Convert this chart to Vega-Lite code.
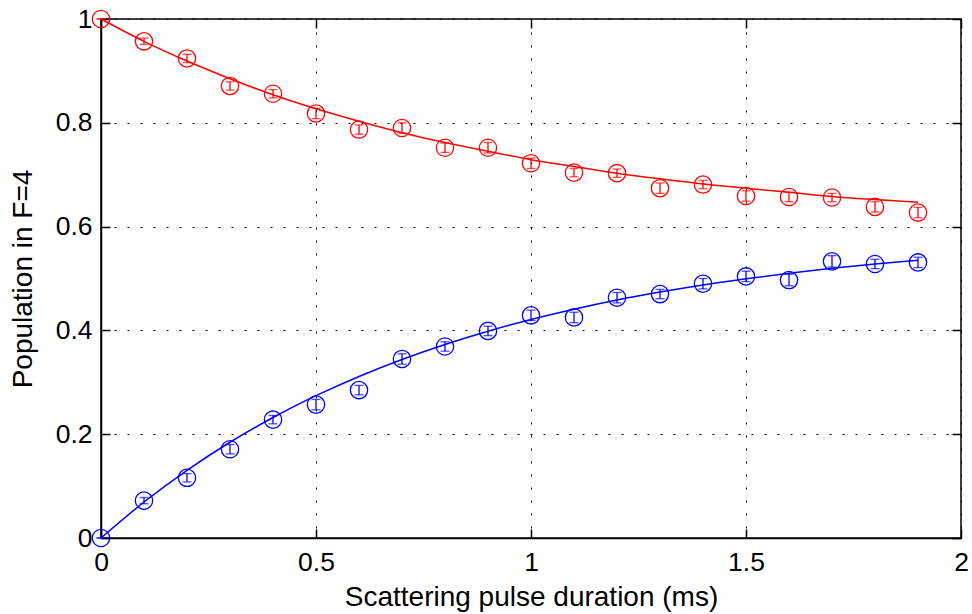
{
  "$schema": "https://vega.github.io/schema/vega-lite/v6.json",
  "width": 860,
  "height": 519,
  "autosize": {"type": "none"},
  "padding": {"left": 101, "top": 19, "right": 11, "bottom": 76},
  "background": "white",
  "config": {
    "font": "Liberation Sans",
    "view": {"stroke": "black", "strokeWidth": 1.5},
    "axis": {
      "domainColor": "black",
      "domainWidth": 1.5,
      "tickColor": "black",
      "tickWidth": 1.5,
      "labelFont": "Liberation Sans",
      "labelFontSize": 26.5,
      "labelColor": "black",
      "labelFlush": false,
      "titleFont": "Liberation Sans",
      "titleFontSize": 28,
      "titleFontWeight": "normal",
      "titleColor": "black",
      "gridColor": "black",
      "gridDash": [2, 11],
      "gridWidth": 1,
      "gridOpacity": 1
    }
  },
  "datasets": {
    "pts": [
      {"t": 0.0, "p": 1.0, "err": 0, "series": "upper"},
      {"t": 0.1, "p": 0.957, "err": 0.006, "series": "upper"},
      {"t": 0.2, "p": 0.924, "err": 0.008, "series": "upper"},
      {"t": 0.3, "p": 0.871, "err": 0.008, "series": "upper"},
      {"t": 0.4, "p": 0.856, "err": 0.008, "series": "upper"},
      {"t": 0.5, "p": 0.818, "err": 0.01, "series": "upper"},
      {"t": 0.6, "p": 0.787, "err": 0.009, "series": "upper"},
      {"t": 0.7, "p": 0.79, "err": 0.01, "series": "upper"},
      {"t": 0.8, "p": 0.752, "err": 0.009, "series": "upper"},
      {"t": 0.9, "p": 0.752, "err": 0.01, "series": "upper"},
      {"t": 1.0, "p": 0.722, "err": 0.01, "series": "upper"},
      {"t": 1.1, "p": 0.704, "err": 0.008, "series": "upper"},
      {"t": 1.2, "p": 0.703, "err": 0.008, "series": "upper"},
      {"t": 1.3, "p": 0.674, "err": 0.01, "series": "upper"},
      {"t": 1.4, "p": 0.681, "err": 0.008, "series": "upper"},
      {"t": 1.5, "p": 0.659, "err": 0.01, "series": "upper"},
      {"t": 1.6, "p": 0.657, "err": 0.009, "series": "upper"},
      {"t": 1.7, "p": 0.656, "err": 0.008, "series": "upper"},
      {"t": 1.8, "p": 0.638, "err": 0.01, "series": "upper"},
      {"t": 1.9, "p": 0.627, "err": 0.01, "series": "upper"},
      {"t": 0.0, "p": 0.0, "err": 0, "series": "lower"},
      {"t": 0.1, "p": 0.072, "err": 0.006, "series": "lower"},
      {"t": 0.2, "p": 0.116, "err": 0.008, "series": "lower"},
      {"t": 0.3, "p": 0.171, "err": 0.009, "series": "lower"},
      {"t": 0.4, "p": 0.228, "err": 0.008, "series": "lower"},
      {"t": 0.5, "p": 0.257, "err": 0.01, "series": "lower"},
      {"t": 0.6, "p": 0.285, "err": 0.009, "series": "lower"},
      {"t": 0.7, "p": 0.345, "err": 0.01, "series": "lower"},
      {"t": 0.8, "p": 0.369, "err": 0.009, "series": "lower"},
      {"t": 0.9, "p": 0.399, "err": 0.009, "series": "lower"},
      {"t": 1.0, "p": 0.429, "err": 0.01, "series": "lower"},
      {"t": 1.1, "p": 0.425, "err": 0.01, "series": "lower"},
      {"t": 1.2, "p": 0.463, "err": 0.01, "series": "lower"},
      {"t": 1.3, "p": 0.47, "err": 0.009, "series": "lower"},
      {"t": 1.4, "p": 0.49, "err": 0.01, "series": "lower"},
      {"t": 1.5, "p": 0.504, "err": 0.01, "series": "lower"},
      {"t": 1.6, "p": 0.497, "err": 0.011, "series": "lower"},
      {"t": 1.7, "p": 0.533, "err": 0.011, "series": "lower"},
      {"t": 1.8, "p": 0.528, "err": 0.009, "series": "lower"},
      {"t": 1.9, "p": 0.531, "err": 0.01, "series": "lower"}
    ],
    "fit": [
      {"t": 0.0, "p": 1.0, "series": "upper"},
      {"t": 0.1, "p": 0.957, "series": "upper"},
      {"t": 0.2, "p": 0.919, "series": "upper"},
      {"t": 0.3, "p": 0.885, "series": "upper"},
      {"t": 0.4, "p": 0.854, "series": "upper"},
      {"t": 0.5, "p": 0.827, "series": "upper"},
      {"t": 0.6, "p": 0.803, "series": "upper"},
      {"t": 0.7, "p": 0.781, "series": "upper"},
      {"t": 0.8, "p": 0.762, "series": "upper"},
      {"t": 0.9, "p": 0.745, "series": "upper"},
      {"t": 1.0, "p": 0.729, "series": "upper"},
      {"t": 1.1, "p": 0.716, "series": "upper"},
      {"t": 1.2, "p": 0.703, "series": "upper"},
      {"t": 1.3, "p": 0.692, "series": "upper"},
      {"t": 1.4, "p": 0.682, "series": "upper"},
      {"t": 1.5, "p": 0.674, "series": "upper"},
      {"t": 1.6, "p": 0.666, "series": "upper"},
      {"t": 1.7, "p": 0.658, "series": "upper"},
      {"t": 1.8, "p": 0.652, "series": "upper"},
      {"t": 1.9, "p": 0.647, "series": "upper"},
      {"t": 0.0, "p": 0.0, "series": "lower"},
      {"t": 0.1, "p": 0.0693, "series": "lower"},
      {"t": 0.2, "p": 0.1305, "series": "lower"},
      {"t": 0.3, "p": 0.1845, "series": "lower"},
      {"t": 0.4, "p": 0.2322, "series": "lower"},
      {"t": 0.5, "p": 0.2742, "series": "lower"},
      {"t": 0.6, "p": 0.3113, "series": "lower"},
      {"t": 0.7, "p": 0.344, "series": "lower"},
      {"t": 0.8, "p": 0.3729, "series": "lower"},
      {"t": 0.9, "p": 0.3984, "series": "lower"},
      {"t": 1.0, "p": 0.421, "series": "lower"},
      {"t": 1.1, "p": 0.4408, "series": "lower"},
      {"t": 1.2, "p": 0.4584, "series": "lower"},
      {"t": 1.3, "p": 0.4738, "series": "lower"},
      {"t": 1.4, "p": 0.4875, "series": "lower"},
      {"t": 1.5, "p": 0.4995, "series": "lower"},
      {"t": 1.6, "p": 0.5102, "series": "lower"},
      {"t": 1.7, "p": 0.5196, "series": "lower"},
      {"t": 1.8, "p": 0.5278, "series": "lower"},
      {"t": 1.9, "p": 0.5351, "series": "lower"}
    ]
  },
  "resolve": {"axis": {"x": "independent", "y": "independent"}},
  "layer": [
    {
      "data": {"name": "fit"},
      "mark": {"type": "line", "strokeWidth": 1.5, "interpolate": "monotone"},
      "encoding": {
        "x": {
          "field": "t", "type": "quantitative",
          "scale": {"domain": [0, 2], "nice": false, "zero": false},
          "axis": {"values": [0, 0.5, 1, 1.5, 2], "format": "~g", "title": "Scattering pulse duration (ms)", "grid": true, "ticks": false, "tickSize": 0, "labelPadding": 11, "titlePadding": 8}
        },
        "y": {
          "field": "p", "type": "quantitative",
          "scale": {"domain": [0, 1], "nice": false, "zero": false},
          "axis": {"values": [0, 0.2, 0.4, 0.6, 0.8, 1], "format": "~g", "title": "Population in F=4", "grid": true, "ticks": false, "tickSize": 0, "labelPadding": 9, "titlePadding": 18}
        },
        "color": {"field": "series", "type": "nominal", "scale": {"domain": ["upper", "lower"], "range": ["#ff0000", "#0000ff"]}, "legend": null}
      }
    },
    {
      "data": {"name": "pts"},
      "mark": {"type": "errorbar", "ticks": {"size": 9, "thickness": 1.3}, "thickness": 1.3},
      "encoding": {
        "x": {"field": "t", "type": "quantitative", "axis": {"orient": "bottom", "values": [0, 0.5, 1, 1.5, 2], "labels": false, "title": null, "grid": false, "domain": false, "tickSize": -9}},
        "y": {"field": "p", "type": "quantitative", "axis": {"orient": "left", "values": [0, 0.2, 0.4, 0.6, 0.8, 1], "labels": false, "title": null, "grid": false, "domain": false, "tickSize": -9}},
        "yError": {"field": "err"},
        "color": {"field": "series", "type": "nominal", "legend": null}
      }
    },
    {
      "data": {"name": "pts"},
      "mark": {"type": "point", "shape": "circle", "filled": false, "size": 300, "strokeWidth": 1.3, "opacity": 1},
      "encoding": {
        "x": {"field": "t", "type": "quantitative", "axis": {"orient": "top", "values": [0, 0.5, 1, 1.5, 2], "labels": false, "title": null, "grid": false, "domain": false, "tickSize": -9}},
        "y": {"field": "p", "type": "quantitative", "axis": {"orient": "right", "values": [0, 0.2, 0.4, 0.6, 0.8, 1], "labels": false, "title": null, "grid": false, "domain": false, "tickSize": -9}},
        "color": {"field": "series", "type": "nominal", "legend": null}
      }
    }
  ]
}
